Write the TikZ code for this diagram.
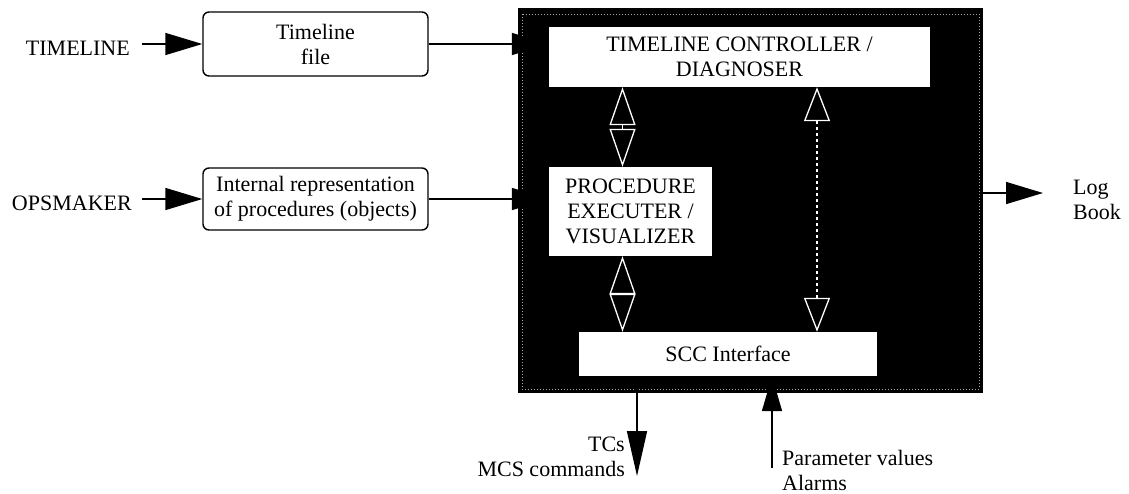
\documentclass[tikz,border=0pt]{standalone}
\usepackage{fontspec}
\setmainfont{Liberation Serif}
\usetikzlibrary{arrows.meta}
\begin{document}
\begin{tikzpicture}[x=1pt, y=-1pt,
  plain/.style={font=\fontsize{22}{25}\selectfont, inner sep=0pt, align=left},
  store/.style={rectangle, draw, rounded corners=6pt, line width=1.4pt,
                minimum width=225pt, inner sep=0pt, align=center,
                font=\fontsize{22}{25}\selectfont},
  unit/.style={rectangle, fill=white, inner sep=0pt, align=center,
               font=\fontsize{22}{25}\selectfont},
  feed/.style={-{Triangle[length=37pt,width=22pt]}, line width=1.5pt},
  link/.style={{Triangle[open,length=38pt,width=26pt]}-{Triangle[open,length=38pt,width=26pt]},
               white, line width=1.3pt}
]
\useasboundingbox (0,0) rectangle (1129,493);

\node[rectangle, fill=black, minimum width=465pt, minimum height=385pt, inner sep=0pt] (core) at (750.5,200.5) {};
\draw[gray!70, dotted, line width=1pt] (522,14) rectangle (979,389);

\node[unit, minimum width=381pt, minimum height=60pt] (ctrl) at (739.5,57) {TIMELINE CONTROLLER /\\DIAGNOSER};
\node[unit, minimum width=163pt, minimum height=89pt] (exec) at (630.5,211.5) {PROCEDURE\\EXECUTER /\\VISUALIZER};
\node[unit, minimum width=298pt, minimum height=44pt] (scc) at (728,354) {SCC Interface};

\node[store, minimum height=64pt] (file) at (315.5,44) {Timeline\\file};
\node[store, minimum height=62pt] (ops) at (315.5,199) {Internal representation\\of procedures (objects)};

\node[plain, anchor=east] (tl) at (130,48) {TIMELINE};
\node[plain, anchor=east] (opsm) at (132,203) {OPSMAKER};

\draw[feed] ([xshift=12pt]tl.east |- file.west) -- (file.west);
\draw[feed] ([xshift=10pt]opsm.east |- ops.west) -- (ops.west);
\draw[feed] (file.east) -- (file.east -| ctrl.west);
\draw[feed] (ops.east) -- (ops.east -| exec.west);

\draw[link] ([xshift=-8pt]exec.north) -- ([xshift=-8pt]exec.north |- ctrl.south);
\draw[link] ([xshift=-8pt]exec.south) -- ([xshift=-8pt]exec.south |- scc.north);
\draw[link, dash pattern=on 3pt off 3pt,
      {Triangle[open,length=34pt,width=26pt]}-{Triangle[open,length=34pt,width=26pt]}]
  ([xshift=89pt]scc.north) -- ([xshift=89pt]scc.north |- ctrl.south);

\coordinate (tcsend) at (637,476);
\coordinate (parstart) at (772,468);
\coordinate (logend) at (1043,193);

\draw[feed, -{Triangle[length=45pt,width=20pt]}] (scc.south -| tcsend) -- (tcsend);
\draw[feed, -{Triangle[length=35pt,width=20pt]}] (parstart) -- (scc.south -| parstart);
\draw[feed] (core.east |- logend) -- (logend);

\node[plain, anchor=west] (log) at (1073,200) {Log\\Book};
\node[plain, anchor=east, align=right] (tcs) at (625,457) {TCs\\MCS commands};
\node[plain, anchor=west] (par) at (782,470) {Parameter values\\Alarms};

\end{tikzpicture}
\end{document}
